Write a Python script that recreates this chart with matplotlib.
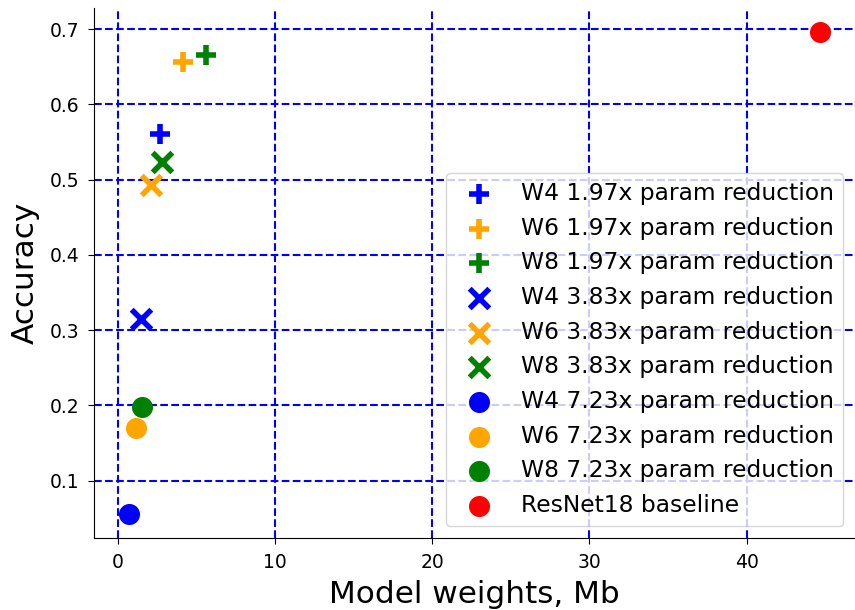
import matplotlib
matplotlib.use("Agg")
from matplotlib import pyplot as plt

# Model weights (Mb) and accuracy per config
labels = [
    "W4 1.97x param reduction", "W6 1.97x param reduction", "W8 1.97x param reduction",
    "W4 3.83x param reduction", "W6 3.83x param reduction", "W8 3.83x param reduction",
    "W4 7.23x param reduction", "W6 7.23x param reduction", "W8 7.23x param reduction",
    "ResNet18 baseline",
]
weights = [2.72, 4.18, 5.63, 1.46, 2.15, 2.85, 0.70, 1.14, 1.58, 44.7]
accuracy = [0.561, 0.656, 0.666, 0.315, 0.493, 0.524, 0.056, 0.170, 0.198, 0.696]
colors = ["blue", "orange", "green"] * 3 + ["red"]
markers = ["+"] * 3 + ["x"] * 3 + ["o"] * 3 + ["o"]

fig = plt.figure(figsize=(8.55, 6.1), dpi=100)
ax = fig.add_axes([0.110, 0.118, 0.890, 0.869])

for w, a, c, m, lab in zip(weights, accuracy, colors, markers, labels):
    lw = 4 if m in ("+", "x") else None
    ax.scatter(w, a, c=c, marker=m, s=200, linewidths=lw, label=lab, zorder=3)

ax.grid(True, color="blue", linestyle="--", linewidth=1.5)
ax.spines["top"].set_visible(False)
ax.spines["right"].set_visible(False)
ax.tick_params(axis="both", labelsize=13.5, length=4.5, pad=6)
ax.set_xlabel("Model weights, Mb", fontsize=22.4, labelpad=6)
ax.set_ylabel("Accuracy", fontsize=22.4, labelpad=7)
ax.legend(loc="lower right", fontsize=16.8)

fig.savefig("out.png", dpi=100)
